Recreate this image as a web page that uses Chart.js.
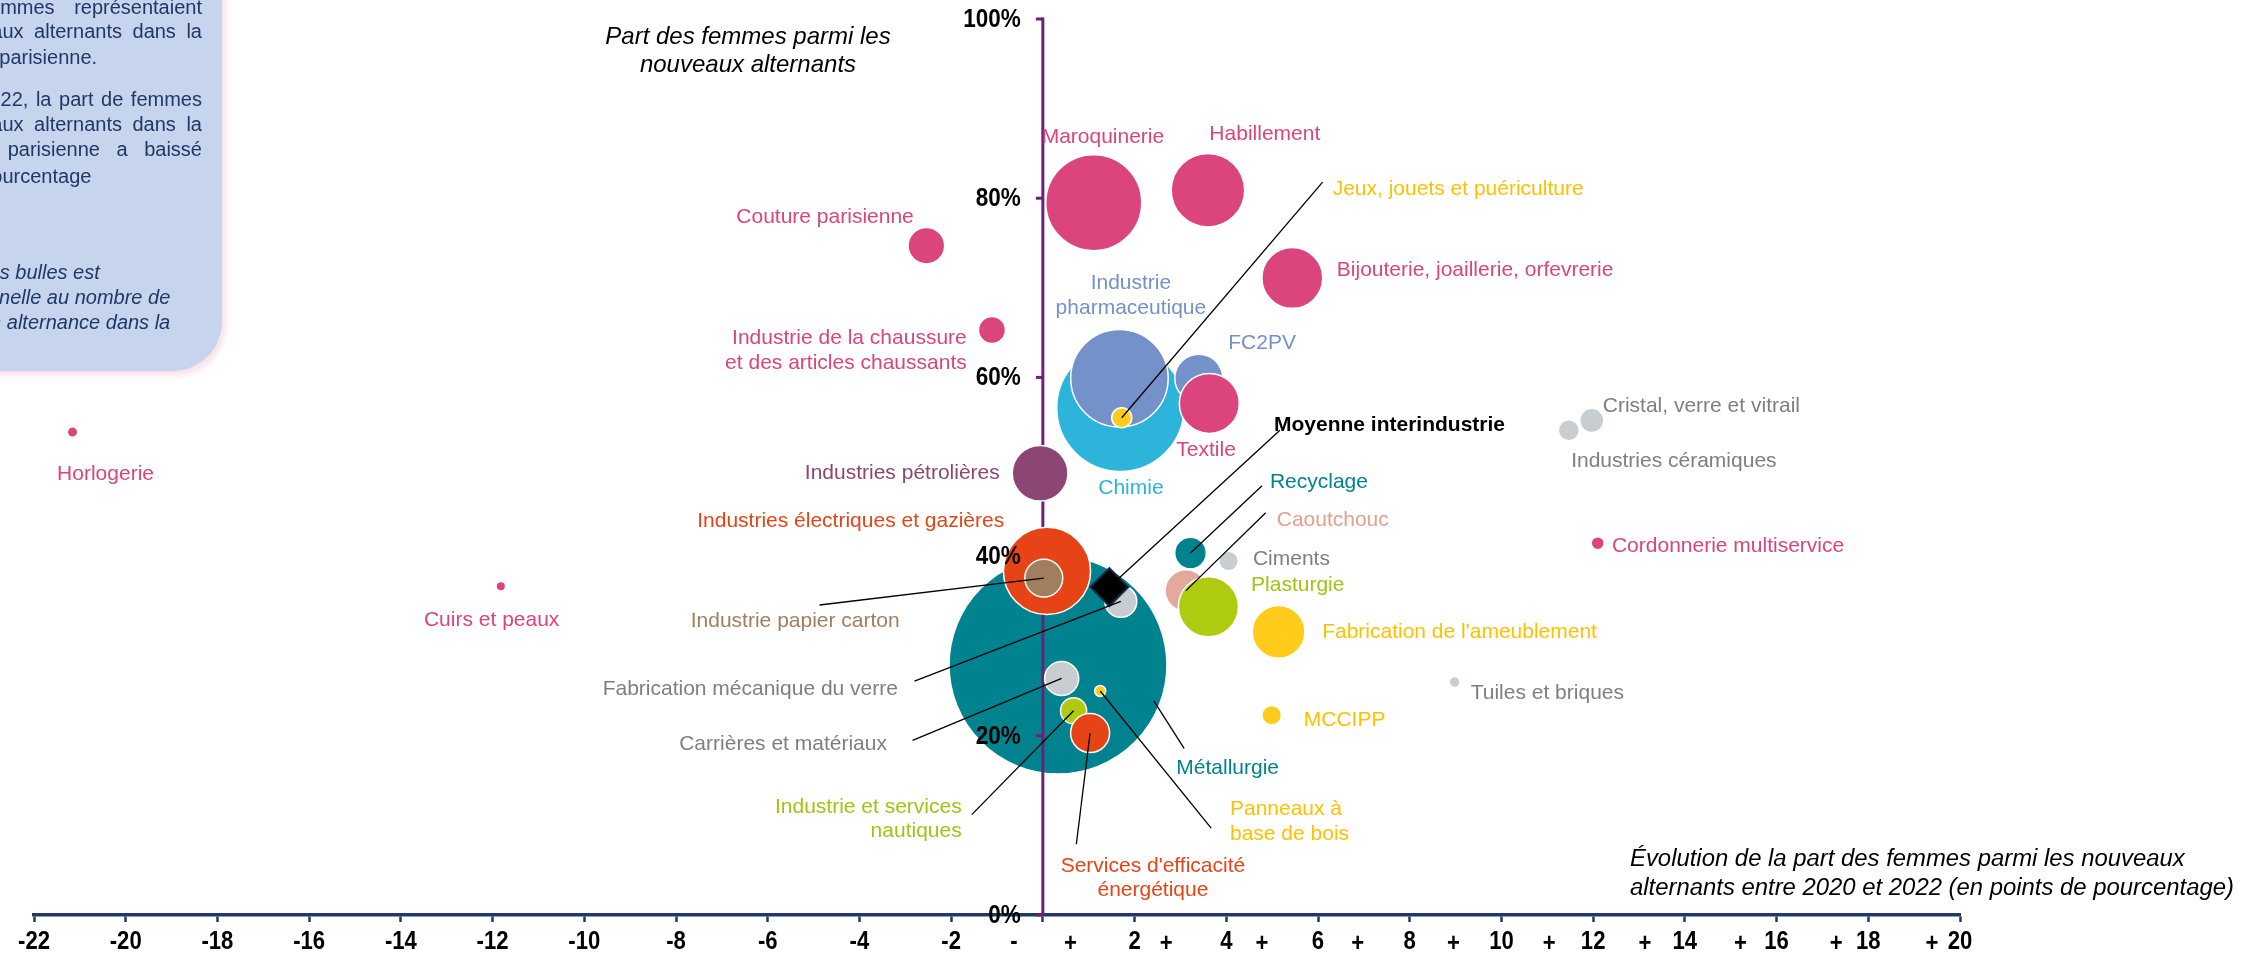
<!DOCTYPE html>
<html lang="fr">
<head>
<meta charset="utf-8">
<title>Part des femmes parmi les nouveaux alternants</title>
<script src="https://cdn.jsdelivr.net/npm/chart.js@4.4.1/dist/chart.umd.min.js"></script>
<style>
  html, body { margin: 0; padding: 0; background: #fff; overflow: hidden; }
  #wrap { position: relative; width: 2241px; height: 954px; overflow: hidden; }
  #chart { position: absolute; left: 0; top: 0; }
  .note {
    position: absolute; left: -330px; top: -30px; width: 552px; height: 401px;
    background: #C6D4EE; border-bottom-right-radius: 50px;
    box-shadow: 3px 4px 7px rgba(226, 160, 180, 0.35);
  }
  .note div {
    position: absolute; white-space: nowrap; line-height: 25px;
    font: 20px "Liberation Sans", Arial, sans-serif; color: #1F3864;
  }
  .note .r { right: 20px; }
  .note .i { font-style: italic; }
</style>
</head>
<body>
<div id="wrap">
  <canvas id="chart" width="2241" height="954"></canvas>
  <div class="note">
    <div class="r" style="top:25.5px; word-spacing:14px">En 2022, les femmes représentaient</div>
    <div class="r" style="top:49.5px; word-spacing:5px">67 % des nouveaux alternants dans la</div>
    <div style="top:75.5px; left:257px">couture parisienne.</div>
    <div class="r" style="top:117.5px; word-spacing:2px">Entre 2020 et 2022, la part de femmes</div>
    <div class="r" style="top:142.5px; word-spacing:5px">parmi les nouveaux alternants dans la</div>
    <div class="r" style="top:167.5px; word-spacing:11px">couture parisienne a baissé</div>
    <div style="top:194.5px; left:179px">de 4 points de pourcentage</div>
    <div class="i" style="top:290.5px; left:233px">La taille des bulles est</div>
    <div class="i" style="top:315.5px; left:239px">proportionnelle au nombre de</div>
    <div class="i" style="top:340.5px; left:140px">nouveaux contrats en alternance dans la</div>
  </div>
</div>
<script>
/* Bulles : part des femmes parmi les nouveaux alternants, par branche */

// --- données ---
const branches = [
  'Métallurgie', 'Chimie', 'Industrie pharmaceutique', 'Jeux, jouets et puériculture', 'Maroquinerie',
  'Habillement', 'Bijouterie, joaillerie, orfevrerie', 'Couture parisienne',
  'Industrie de la chaussure et des articles chaussants', 'Industries pétrolières', 'FC2PV', 'Textile',
  'Industries électriques et gazières', 'Industrie papier carton', 'Fabrication mécanique du verre',
  'Carrières et matériaux', 'Panneaux à base de bois', 'Industrie et services nautiques',
  "Services d'efficacité énergétique", 'Recyclage', 'Ciments', 'Caoutchouc', 'Plasturgie',
  "Fabrication de l'ameublement", 'MCCIPP', 'Tuiles et briques', 'Industries céramiques',
  'Cristal, verre et vitrail', 'Cordonnerie multiservice', 'Horlogerie', 'Cuirs et peaux'
];
// évolution 2020-2022, en points de pourcentage
const evolution = [0.33, 1.69, 1.67, 1.72, 1.11, 3.60, 5.44, -2.54, -1.11, -0.06, 3.40, 3.63, 0.09, 0.02, 1.70,
  0.41, 1.25, 0.67, 1.03, 3.22, 4.05, 3.12, 3.61, 5.14, 4.99, 8.98, 11.47, 11.97, 12.10, -21.16, -11.82];
// part des femmes en 2022 (%)
const partFemmes = [27.9, 56.6, 59.9, 55.5, 79.5, 80.9, 71.1, 74.7, 65.3, 49.3, 59.9, 57.1, 38.4, 37.6, 35.0,
  26.4, 25.0, 22.8, 20.3, 40.4, 39.5, 36.2, 34.4, 31.6, 22.3, 26.0, 54.1, 55.2, 41.5, 53.9, 36.7];
// nouveaux alternants (taille des bulles)
const nouveauxAlternants = [47500, 16200, 9500, 400, 9200, 5400, 3700, 1340, 730, 3100, 2300, 3600, 7600, 1440,
  1020, 1160, 120, 680, 1520, 1000, 380, 1730, 3600, 2790, 380, 120, 440, 580, 170, 110, 90];
const moyenneInterindustrie = [1.45, 36.6];
const yTicks = [0, 20, 40, 60, 80, 100];
const yTickLabels = ['0%', '20%', '40%', '60%', '80%', '100%'];

// --- styles ---
const PINK = '#DB447D', PLUM = '#8C4674', BLUE = '#7491C9', CYAN = '#2CB4DA';
const YELLOW = '#FFCC1C', YELLOW_TXT = '#FFC000', GREY = '#C8CDD2', GREY_TXT = '#7F7F7F';
const TEAL = '#00838F', LIME = '#AFCB0F', LIME_TXT = '#A2C313', ORANGE = '#E64417';
const BROWN = '#A17F5E', SALMON = '#E3A99B', SALMON_TXT = '#E3A08F';
const NAVY = '#1F3864', AXIS_PURPLE = '#6F1F78';
const FONT = '"Liberation Sans", Arial, sans-serif';

const couleurBranche = {
  'Métallurgie': TEAL, 'Chimie': CYAN, 'Industrie pharmaceutique': BLUE, 'Jeux, jouets et puériculture': YELLOW,
  'Maroquinerie': PINK, 'Habillement': PINK, 'Bijouterie, joaillerie, orfevrerie': PINK, 'Couture parisienne': PINK,
  'Industrie de la chaussure et des articles chaussants': PINK, 'Industries pétrolières': PLUM, 'FC2PV': BLUE,
  'Textile': PINK, 'Industries électriques et gazières': ORANGE, 'Industrie papier carton': BROWN,
  'Fabrication mécanique du verre': GREY, 'Carrières et matériaux': GREY, 'Panneaux à base de bois': YELLOW,
  'Industrie et services nautiques': LIME, "Services d'efficacité énergétique": ORANGE, 'Recyclage': TEAL,
  'Ciments': GREY, 'Caoutchouc': SALMON, 'Plasturgie': LIME, "Fabrication de l'ameublement": YELLOW,
  'MCCIPP': YELLOW, 'Tuiles et briques': GREY, 'Industries céramiques': GREY, 'Cristal, verre et vitrail': GREY,
  'Cordonnerie multiservice': PINK, 'Horlogerie': PINK, 'Cuirs et peaux': PINK
};

const rayon = n => 0.5 * Math.sqrt(n);
const point = i => ({ x: evolution[i], y: partFemmes[i], r: rayon(nouveauxAlternants[i]) });

const backIdx = branches.map((b, i) => i).filter(i => branches[i] === 'Métallurgie');
const frontIdx = branches.map((b, i) => i).filter(i => branches[i] !== 'Métallurgie');

// étiquettes (positions en unités des axes) et traits de rappel
const etiquettes = [
  { t: ['Horlogerie'], c: PINK, x: -20.44, y: 49.2 },
  { t: ['Cuirs et peaux'], c: PINK, x: -12.02, y: 32.9 },
  { t: ['Couture parisienne'], c: PINK, x: -4.75, y: 77.9 },
  { t: ['Industrie de la chaussure', 'et des articles chaussants'], c: PINK, x: -1.66, y: 63.0, a: 'right' },
  { t: ['Industries pétrolières'], c: PLUM, x: -0.94, y: 49.3, a: 'right' },
  { t: ['Maroquinerie'], c: PINK, x: 1.31, y: 86.8 },
  { t: ['Habillement'], c: PINK, x: 4.84, y: 87.1 },
  { t: ['Jeux, jouets et puériculture'], c: YELLOW_TXT, x: 6.32, y: 81.0, a: 'left', from: [6.10, 81.8], to: 'Jeux, jouets et puériculture' },
  { t: ['Bijouterie, joaillerie, orfevrerie'], c: PINK, x: 6.41, y: 72.0, a: 'left' },
  { t: ['Industrie', 'pharmaceutique'], c: BLUE, x: 1.92, y: 69.1 },
  { t: ['FC2PV'], c: BLUE, x: 4.78, y: 63.8 },
  { t: ['Textile'], c: PINK, x: 3.56, y: 51.9 },
  { t: ['Chimie'], c: CYAN, x: 1.92, y: 47.6 },
  { t: ['Moyenne interindustrie'], c: '#000', x: 5.04, y: 54.7, a: 'left', bold: true, from: [5.17, 54.1], to: 'moyenne' },
  { t: ['Cristal, verre et vitrail'], c: GREY_TXT, x: 12.21, y: 56.8, a: 'left' },
  { t: ['Industries céramiques'], c: GREY_TXT, x: 13.76, y: 50.6 },
  { t: ['Recyclage'], c: TEAL, x: 6.02, y: 48.3, from: [4.78, 47.9], to: 'Recyclage' },
  { t: ['Caoutchouc'], c: SALMON_TXT, x: 5.10, y: 44.1, a: 'left', from: [4.86, 44.9], to: 'Caoutchouc' },
  { t: ['Ciments'], c: GREY_TXT, x: 4.58, y: 39.7, a: 'left' },
  { t: ['Plasturgie'], c: LIME_TXT, x: 4.54, y: 36.8, a: 'left' },
  { t: ['Industries électriques et gazières'], c: ORANGE, x: -4.19, y: 44.0 },
  { t: ['Industrie papier carton'], c: BROWN, x: -5.40, y: 32.8, from: [-4.87, 34.6], to: 'Industrie papier carton' },
  { t: ["Fabrication de l'ameublement"], c: YELLOW_TXT, x: 6.09, y: 31.6, a: 'left' },
  { t: ['Fabrication mécanique du verre'], c: GREY_TXT, x: -3.16, y: 25.2, a: 'right', from: [-2.80, 26.1], to: 'Fabrication mécanique du verre' },
  { t: ['Carrières et matériaux'], c: GREY_TXT, x: -3.40, y: 19.1, a: 'right', from: [-2.84, 19.5], to: 'Carrières et matériaux' },
  { t: ['Tuiles et briques'], c: GREY_TXT, x: 9.33, y: 24.7, a: 'left' },
  { t: ['MCCIPP'], c: YELLOW_TXT, x: 5.69, y: 21.7, a: 'left' },
  { t: ['Métallurgie'], c: TEAL, x: 4.03, y: 16.4, from: [3.08, 18.6], to: [2.42, 23.9] },
  { t: ['Panneaux à', 'base de bois'], c: YELLOW_TXT, x: 4.08, y: 10.4, a: 'left', from: [3.67, 9.7], to: 'Panneaux à base de bois' },
  { t: ['Industrie et services', 'nautiques'], c: LIME_TXT, x: -1.77, y: 10.7, a: 'right', from: [-1.55, 11.2], to: 'Industrie et services nautiques' },
  { t: ["Services d'efficacité", 'énergétique'], c: ORANGE, x: 2.40, y: 4.1, from: [0.73, 7.9], to: "Services d'efficacité énergétique" },
  { t: ['Cordonnerie multiservice'], c: PINK, x: 12.41, y: 41.2, a: 'left' }
];

function cible(to) {
  if (Array.isArray(to)) return to;
  if (to === 'moyenne') return moyenneInterindustrie;
  const i = branches.indexOf(to);
  return [evolution[i], partFemmes[i]];
}

// texte gras étroit (police condensée simulée)
function texteEtroit(ctx, txt, px, py, sx) {
  ctx.save();
  ctx.translate(px, py);
  ctx.scale(sx, 1);
  ctx.fillText(txt, 0, 0);
  ctx.restore();
}

const decor = {
  id: 'decor',
  // axe vertical (x = 0) : au-dessus de la Métallurgie, sous les autres bulles
  beforeDatasetDraw(chart, args) {
    if (args.index !== 0) return;
    const { ctx, scales: { x, y } } = chart;
    const x0 = x.getPixelForValue(0);
    ctx.save();
    ctx.strokeStyle = AXIS_PURPLE;
    ctx.lineWidth = 3;
    ctx.beginPath();
    ctx.moveTo(x0, y.getPixelForValue(100) - 1.5);
    ctx.lineTo(x0, y.getPixelForValue(0));
    ctx.stroke();
    yTicks.forEach(v => {
      const py = y.getPixelForValue(v);
      ctx.beginPath();
      ctx.moveTo(x0 - 7, py);
      ctx.lineTo(x0, py);
      ctx.stroke();
    });
    ctx.restore();
  },
  afterDatasetsDraw(chart) {
    const { ctx, scales: { x, y } } = chart;
    ctx.save();

    // traits de rappel
    ctx.strokeStyle = '#000';
    ctx.lineWidth = 1.3;
    etiquettes.filter(e => e.from).forEach(e => {
      const [tx, ty] = cible(e.to);
      ctx.beginPath();
      ctx.moveTo(x.getPixelForValue(e.from[0]), y.getPixelForValue(e.from[1]));
      ctx.lineTo(x.getPixelForValue(tx), y.getPixelForValue(ty));
      ctx.stroke();
    });

    // étiquettes des branches
    ctx.textBaseline = 'middle';
    etiquettes.forEach(e => {
      ctx.font = (e.bold ? 'bold ' : '') + '21px ' + FONT;
      ctx.fillStyle = e.c;
      ctx.textAlign = e.a || 'center';
      const px = x.getPixelForValue(e.x), py = y.getPixelForValue(e.y);
      e.t.forEach((line, k) => ctx.fillText(line, px, py + (k - (e.t.length - 1) / 2) * 24.5));
    });

    // graduations de l'axe vertical
    const x0 = x.getPixelForValue(0);
    ctx.font = 'bold 25px ' + FONT;
    ctx.fillStyle = '#000';
    ctx.textAlign = 'right';
    yTicks.forEach((v, k) => texteEtroit(ctx, yTickLabels[k], x0 - 22, y.getPixelForValue(v) + 1, 0.9));

    // graduations de l'axe horizontal, avec les signes
    ctx.font = 'bold 26px ' + FONT;
    ctx.textAlign = 'center';
    const ly = x.top + 27;
    x.ticks.forEach(t => {
      const v = t.value;
      const px = x.getPixelForValue(v);
      if (v < 0) texteEtroit(ctx, String(v), px, ly, 0.85);
      else if (v === 0) texteEtroit(ctx, '-', px - 29, ly, 0.85);
      else {
        texteEtroit(ctx, String(v), px, ly, 0.85);
        texteEtroit(ctx, '+', px - (28 + 2 * (20 - v)), ly + 2, 0.85);
      }
    });

    // titres des axes
    ctx.fillStyle = '#000';
    ctx.font = 'italic 24px ' + FONT;
    ctx.textAlign = 'center';
    ctx.fillText('Part des femmes parmi les', 748, 37);
    ctx.fillText('nouveaux alternants', 748, 65);
    const l1 = 'Évolution de la part des femmes parmi les nouveaux';
    const l2 = 'alternants entre 2020 et 2022 (en points de pourcentage)';
    ctx.font = 'italic 25px ' + FONT;
    const taille = Math.min(25, 25 * 604 / ctx.measureText(l2).width);
    ctx.font = 'italic ' + taille.toFixed(2) + 'px ' + FONT;
    ctx.textAlign = 'left';
    ctx.fillText(l1, 1630, 859);
    ctx.fillText(l2, 1630, 888);
    ctx.restore();
  }
};

Chart.defaults.font.family = FONT;

new Chart(document.getElementById('chart'), {
  type: 'bubble',
  data: {
    datasets: [
      {
        label: 'Branches',
        order: 2,
        data: frontIdx.map(point),
        backgroundColor: frontIdx.map(i => couleurBranche[branches[i]]),
        borderColor: '#fff',
        borderWidth: 1.5
      },
      {
        type: 'scatter',
        label: 'Moyenne interindustrie',
        order: 1,
        data: [{ x: moyenneInterindustrie[0], y: moyenneInterindustrie[1] }],
        pointStyle: 'rectRot',
        pointRadius: 19,
        backgroundColor: '#000',
        borderColor: '#1B2A4A',
        borderWidth: 2
      },
      {
        label: 'Métallurgie',
        order: 3,
        data: backIdx.map(point),
        backgroundColor: backIdx.map(i => couleurBranche[branches[i]]),
        borderColor: '#fff',
        borderWidth: 1.5
      }
    ]
  },
  options: {
    responsive: false,
    devicePixelRatio: 1,
    animation: false,
    events: [],
    layout: { autoPadding: false, padding: { left: 34, right: 281, top: 19, bottom: 0 } },
    plugins: { legend: { display: false }, tooltip: { enabled: false } },
    scales: {
      x: {
        type: 'linear', min: -22, max: 20,
        afterFit: s => { s.height = 39; },
        border: { color: NAVY, width: 3.5 },
        grid: { drawOnChartArea: false, drawTicks: true, tickLength: 7, tickColor: NAVY, tickWidth: 2.5 },
        ticks: { stepSize: 2, autoSkip: false, maxRotation: 0, display: false }
      },
      y: { type: 'linear', min: 0, max: 100, display: false }
    }
  },
  plugins: [decor]
});
</script>
</body>
</html>
